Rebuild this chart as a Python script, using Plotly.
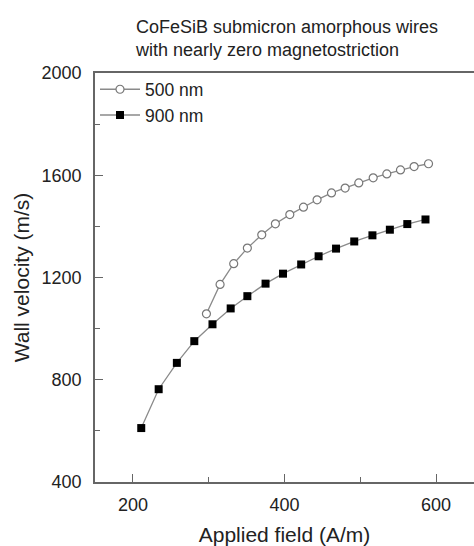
import plotly.graph_objects as go

field_500 = [297, 315, 333, 351, 370, 388, 407, 425, 443, 462, 480, 498, 517, 535, 553, 571, 590]
vel_500 = [1058, 1173, 1254, 1315, 1367, 1410, 1446, 1475, 1504, 1531, 1550, 1570, 1590, 1605, 1621, 1634, 1645]

field_900 = [211, 234, 258, 281, 305, 329, 351, 375, 398, 422, 445, 468, 492, 516, 539, 562, 586]
vel_900 = [611, 763, 866, 951, 1017, 1079, 1127, 1176, 1215, 1251, 1283, 1313, 1341, 1365, 1387, 1409, 1427]

title_lines = ["CoFeSiB submicron amorphous wires", "with nearly zero magnetostriction"]

font = "Liberation Sans, Arial, sans-serif"
txt = "#222222"
axc = "#666666"

fig = go.Figure()
fig.add_trace(go.Scatter(
    x=field_500, y=vel_500, mode="lines+markers", name="500 nm",
    line=dict(color="#8a8a8a", width=1.3),
    marker=dict(symbol="circle", size=8, color="white", line=dict(color="#777777", width=1.2)),
))
fig.add_trace(go.Scatter(
    x=field_900, y=vel_900, mode="lines+markers", name="900 nm",
    line=dict(color="#8a8a8a", width=1.3),
    marker=dict(symbol="square", size=8, color="black", line=dict(color="black", width=0)),
))

fig.update_layout(
    width=474, height=546,
    margin=dict(l=95, r=0, t=73, b=64),
    plot_bgcolor="white", paper_bgcolor="white",
    font=dict(family=font, color=txt, size=16),
    showlegend=True,
    legend=dict(x=0, y=1.004, xanchor="left", yanchor="top", bgcolor="rgba(0,0,0,0)",
                font=dict(size=17.5, color=txt, family=font), itemwidth=40, tracegroupgap=0,
                borderwidth=0),
    annotations=[dict(
        text="<br>".join(title_lines), xref="paper", yref="paper",
        x=(133 - 95) / 379, y=1, xanchor="left", yanchor="bottom", yshift=11,
        align="left", showarrow=False, font=dict(size=18, color=txt, family=font),
    )],
)
fig.update_xaxes(
    range=[150, 650], tickvals=[200, 400, 600], ticks="inside", ticklen=8, tickwidth=1.3,
    tickcolor=axc, showline=True, linecolor=axc, linewidth=1.8, mirror=True,
    showgrid=False, zeroline=False, ticklabelstandoff=5,
    minor=dict(tickvals=[300, 500], ticks="inside", ticklen=5, tickwidth=1.3, tickcolor=axc),
    title=dict(text="Applied field (A/m)", font=dict(size=21, color=txt), standoff=16),
    tickfont=dict(size=18, color=txt),
)
fig.update_yaxes(
    range=[400, 2000], tickvals=[400, 800, 1200, 1600, 2000], ticks="inside", ticklen=8,
    tickwidth=1.3, tickcolor=axc, showline=True, linecolor=axc, linewidth=1.8, mirror=False,
    showgrid=False, zeroline=False, ticklabelstandoff=8,
    minor=dict(tickvals=[600, 1000, 1400, 1800], ticks="inside", ticklen=5, tickwidth=1.3, tickcolor=axc),
    title=dict(text="Wall velocity (m/s)", font=dict(size=21, color=txt), standoff=6),
    tickfont=dict(size=18, color=txt),
)

fig.write_html("out.html")
